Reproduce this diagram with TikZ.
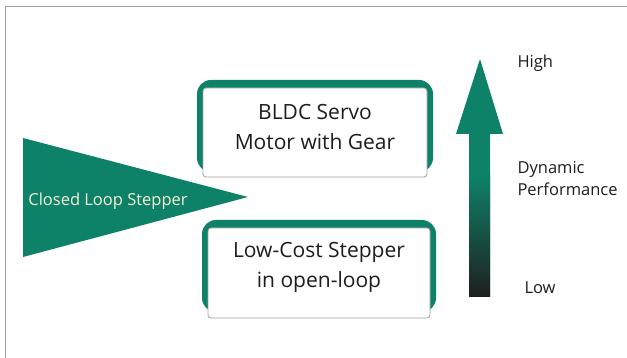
\documentclass[tikz,border=0pt]{standalone}
\usepackage{xcolor}
\usepackage{fontspec}
\setmainfont{Open Sans}
\usepackage{tikz}
\usetikzlibrary{calc}
\usetikzlibrary{positioning}

\definecolor{teal green}{RGB}{14,130,104}
\definecolor{cream}{RGB}{246,240,212}
\definecolor{ink}{RGB}{30,28,29}
\definecolor{frame gray}{RGB}{160,160,160}

\begin{document}
\begin{tikzpicture}[x=1pt,y=-1pt,
                    box text/.style={align=center,text=ink,font=\fontsize{21}{30}\selectfont},
                    side text/.style={align=left,anchor=west,text=ink,font=\fontsize{16.5}{22}\selectfont},
                    green frame/.style={fill=teal green,rounded corners=14pt},
                    white face/.style={fill=white,draw=frame gray,line width=0.8pt,rounded corners=3pt}]

  \useasboundingbox (0,0) rectangle (627,358);
  \fill[white] (0,0) rectangle (627,358);
  \draw[frame gray,line width=1pt] (5,358) -- (5,7) -- (627,7);

  % upper box
  \fill[green frame] (197,80) rectangle (433,172);
  \filldraw[white face] (203,88) rectangle (427,177);
  \node[box text] (servo) at (315,127) {BLDC Servo\\Motor with Gear};

  % lower box
  \fill[green frame] (202,220) rectangle (436,312);
  \filldraw[white face] (208,228) rectangle (430,318);
  \node[box text] (openloop) at (319,267) {Low-Cost Stepper\\in open-loop};

  % wedge
  \fill[teal green] (23,138) -- (248,197) -- (23,257) -- cycle;
  \node[text=cream,font=\fontsize{16.5}{18}\selectfont] (closed) at (108,201) {Closed Loop Stepper};

  % performance arrow, green head and a shaft that darkens downwards
  \fill[teal green]
    (469,297) -- (469,134) -- (456,134) -- (480,59) -- (503,134) -- (490,134) -- (490,297) -- cycle;
  \shade[top color=teal green,bottom color=black!88] (469,175) rectangle (490,297);
  \node[side text] (high) at (514,63) {High};
  \node[side text] (dyn) at (514,179) {Dynamic\\Performance};
  \node[side text] (low) at (521,288) {Low};

\end{tikzpicture}
\end{document}
